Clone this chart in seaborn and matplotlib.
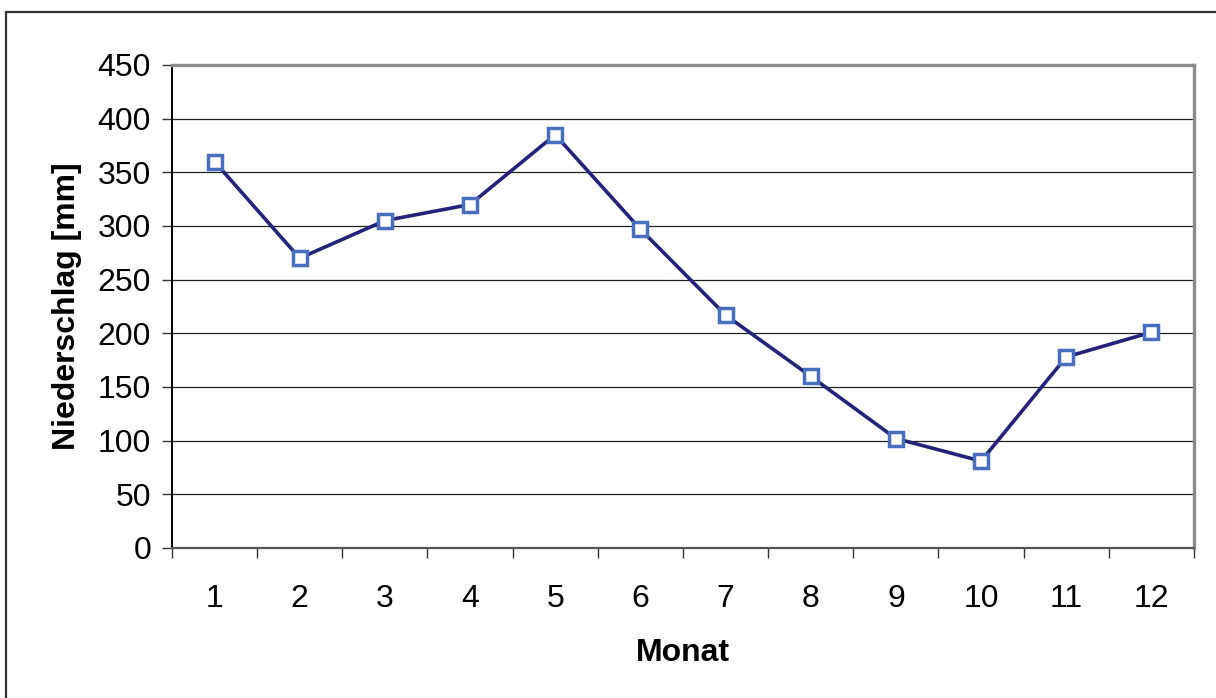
import numpy as np
import pandas as pd
import seaborn as sns
import matplotlib.pyplot as plt
from matplotlib.lines import Line2D

sns.set_style("white")
plt.rcParams['font.family'] = ['Liberation Sans', 'DejaVu Sans']
plt.rcParams['text.color'] = 'black'
plt.rcParams['axes.labelcolor'] = 'black'

monate = [1, 2, 3, 4, 5, 6, 7, 8, 9, 10, 11, 12]
niederschlag = [360, 270, 305, 320, 385, 297, 217, 160, 102, 81, 178, 201]
y_ticks = [0, 50, 100, 150, 200, 250, 300, 350, 400, 450]

df = pd.DataFrame({'Monat': monate, 'Niederschlag': niederschlag})

fig = plt.figure(figsize=(12.16, 6.98), dpi=100)
ax = fig.add_axes([0.1414, 0.2149, 0.9819 - 0.1414, 0.9069 - 0.2149])

# horizontal gridlines like excel
for y in y_ticks[1:-1]:
    ax.axhline(y, color='#222222', lw=0.9, zorder=1)

sns.lineplot(data=df, x='Monat', y='Niederschlag', ax=ax,
             color='#23237a', lw=2.6, marker='s', markersize=9.5,
             markerfacecolor='white', markeredgecolor='#4a6ebe',
             markeredgewidth=2.5, zorder=3)

ax.set_xlim(0.5, 12.5)
ax.set_ylim(0, 450)
ax.set_yticks(y_ticks)
ax.set_xticks(np.arange(0.5, 13, 1))
ax.set_xticklabels([])
ax.set_xticks(monate, minor=True)
ax.set_xticklabels([str(m) for m in monate], minor=True)

ax.tick_params(axis='y', which='major', direction='out', length=7, width=1,
               color='#333333', labelcolor='black', labelsize=23, pad=8, left=True)
ax.tick_params(axis='x', which='major', direction='out', length=7, width=1,
               color='#333333', bottom=True)
ax.tick_params(axis='x', which='minor', length=0, labelsize=23,
               labelcolor='black', pad=26)

ax.spines['left'].set_color('black')
ax.spines['left'].set_linewidth(1.4)
ax.spines['bottom'].set_color('#555555')
ax.spines['bottom'].set_linewidth(1.6)
ax.spines['top'].set_color('#8c8c8c')
ax.spines['top'].set_linewidth(2.4)
ax.spines['right'].set_color('#8c8c8c')
ax.spines['right'].set_linewidth(2.4)

ax.set_xlabel('Monat', fontsize=23, fontweight='bold', labelpad=17)
ax.set_ylabel('Niederschlag [mm]', fontsize=23, fontweight='bold', labelpad=11)

# outer chart frame (only top and left visible)
fig.add_artist(Line2D([6 / 1216, 6 / 1216], [0, 1 - 12 / 698], transform=fig.transFigure,
                      color='#333333', lw=1.6))
fig.add_artist(Line2D([6 / 1216, 1], [1 - 12 / 698, 1 - 12 / 698], transform=fig.transFigure,
                      color='#333333', lw=1.6))

plt.savefig('out.png', dpi=100)
